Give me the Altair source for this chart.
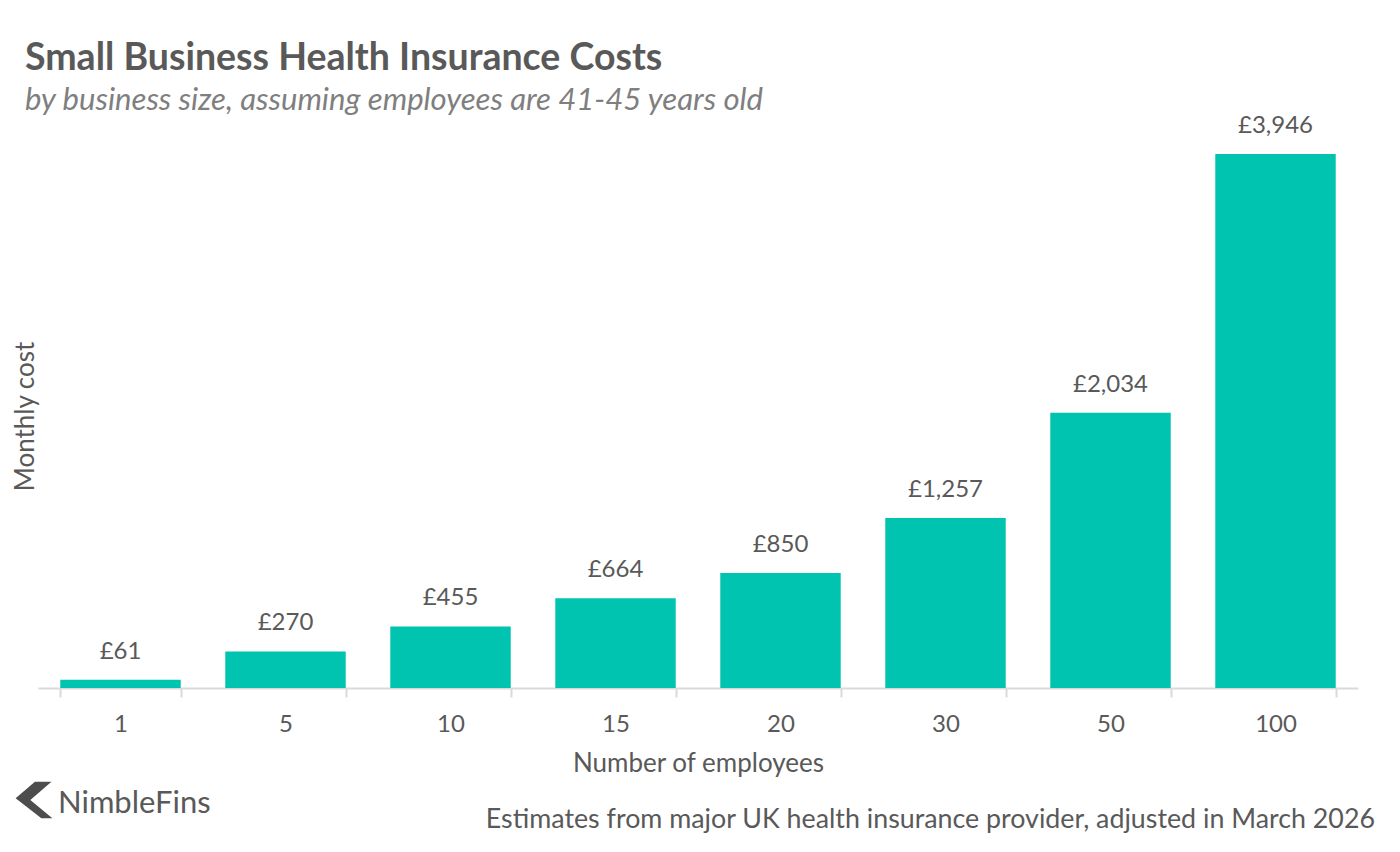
import altair as alt
import pandas as pd

employees = ["1", "5", "10", "15", "20", "30", "50", "100"]
costs = [61, 270, 455, 664, 850, 1257, 2034, 3946]

title_text = ["Small Business Health Insurance Costs"]
subtitle_text = ["by business size, assuming employees are 41-45 years old"]
source_text = ["Estimates from major UK health insurance provider, adjusted in March 2026"]
brand_text = ["NimbleFins"]

df = pd.DataFrame({"employees": employees, "cost": costs})

FONT = "Lato"
GREY = "#595959"
TEAL = "#00c4b0"

xenc = alt.X(
    "employees:N",
    sort=employees,
    scale=alt.Scale(paddingInner=0.27, paddingOuter=0.135),
    axis=alt.Axis(
        title="Number of employees",
        labelAngle=0,
        labelFontSize=24,
        labelColor=GREY,
        labelFont=FONT,
        labelPadding=15,
        titleFontSize=26,
        titleFont=FONT,
        titleFontWeight="normal",
        titleColor=GREY,
        titlePadding=14,
        domainColor="#d9d9d9",
        domainWidth=2,
        tickColor="#d9d9d9",
        tickWidth=2,
        tickSize=9,
        tickBand="extent",
    ),
)
yenc = alt.Y(
    "cost:Q",
    scale=alt.Scale(domain=[0, 4500]),
    axis=alt.Axis(
        title="Monthly cost",
        labels=False,
        ticks=False,
        domain=False,
        grid=False,
        titleFontSize=26,
        titleFont=FONT,
        titleFontWeight="normal",
        titleColor=GREY,
        titleX=-13,
        titleY=337,
        titleAngle=270,
        titleAlign="center",
        titleBaseline="middle",
    ),
)

bars = alt.Chart(df).mark_bar(color=TEAL).encode(x=xenc, y=yenc)

labels = alt.Chart(df).mark_text(
    dy=-16, baseline="bottom", fontSize=24, font=FONT, color=GREY
).transform_calculate(
    lab="'£' + format(datum.cost, ',')"
).encode(x=alt.X("employees:N", sort=employees), y="cost:Q", text="lab:N")

title = alt.Chart(pd.DataFrame({"t": title_text})).mark_text(
    align="left", baseline="alphabetic", fontSize=37.5, fontWeight="bold", font=FONT, color=GREY
).encode(x=alt.value(-13), y=alt.value(-9), text="t:N")

subtitle = alt.Chart(pd.DataFrame({"t": subtitle_text})).mark_text(
    align="left", baseline="alphabetic", fontSize=31.1, fontStyle="italic", font=FONT, color="#7f7f7f"
).encode(x=alt.value(-13), y=alt.value(31), text="t:N")

source = alt.Chart(pd.DataFrame({"t": source_text})).mark_text(
    align="right", baseline="alphabetic", fontSize=26.8, font=FONT, color=GREY
).encode(x=alt.value(1337), y=alt.value(749), text="t:N")

brand = alt.Chart(pd.DataFrame({"t": brand_text})).mark_text(
    align="left", baseline="alphabetic", fontSize=31, font=FONT, color=GREY
).encode(x=alt.value(20), y=alt.value(734), text="t:N")

chevron = alt.Chart(pd.DataFrame({"t": brand_text})).mark_point(
    shape="M 0.05 -1 L -1 -0.1 L 0.4 1 L 1 1 L -0.2 0.0 L 0.95 -1 Z",
    filled=True, color="#4d4d4d", opacity=1, size=1350, strokeWidth=0,
).encode(x=alt.value(-4), y=alt.value(721))

chart = alt.layer(bars, labels, title, subtitle, source, brand, chevron).properties(
    width=1320,
    height=609,
    autosize=alt.AutoSizeParams(type="none"),
    padding={"left": 30, "top": 71, "right": 34, "bottom": 156},
).configure(font=FONT).configure_view(stroke=None)

chart.save("out.html", embed_options={"renderer": "svg", "actions": False})
